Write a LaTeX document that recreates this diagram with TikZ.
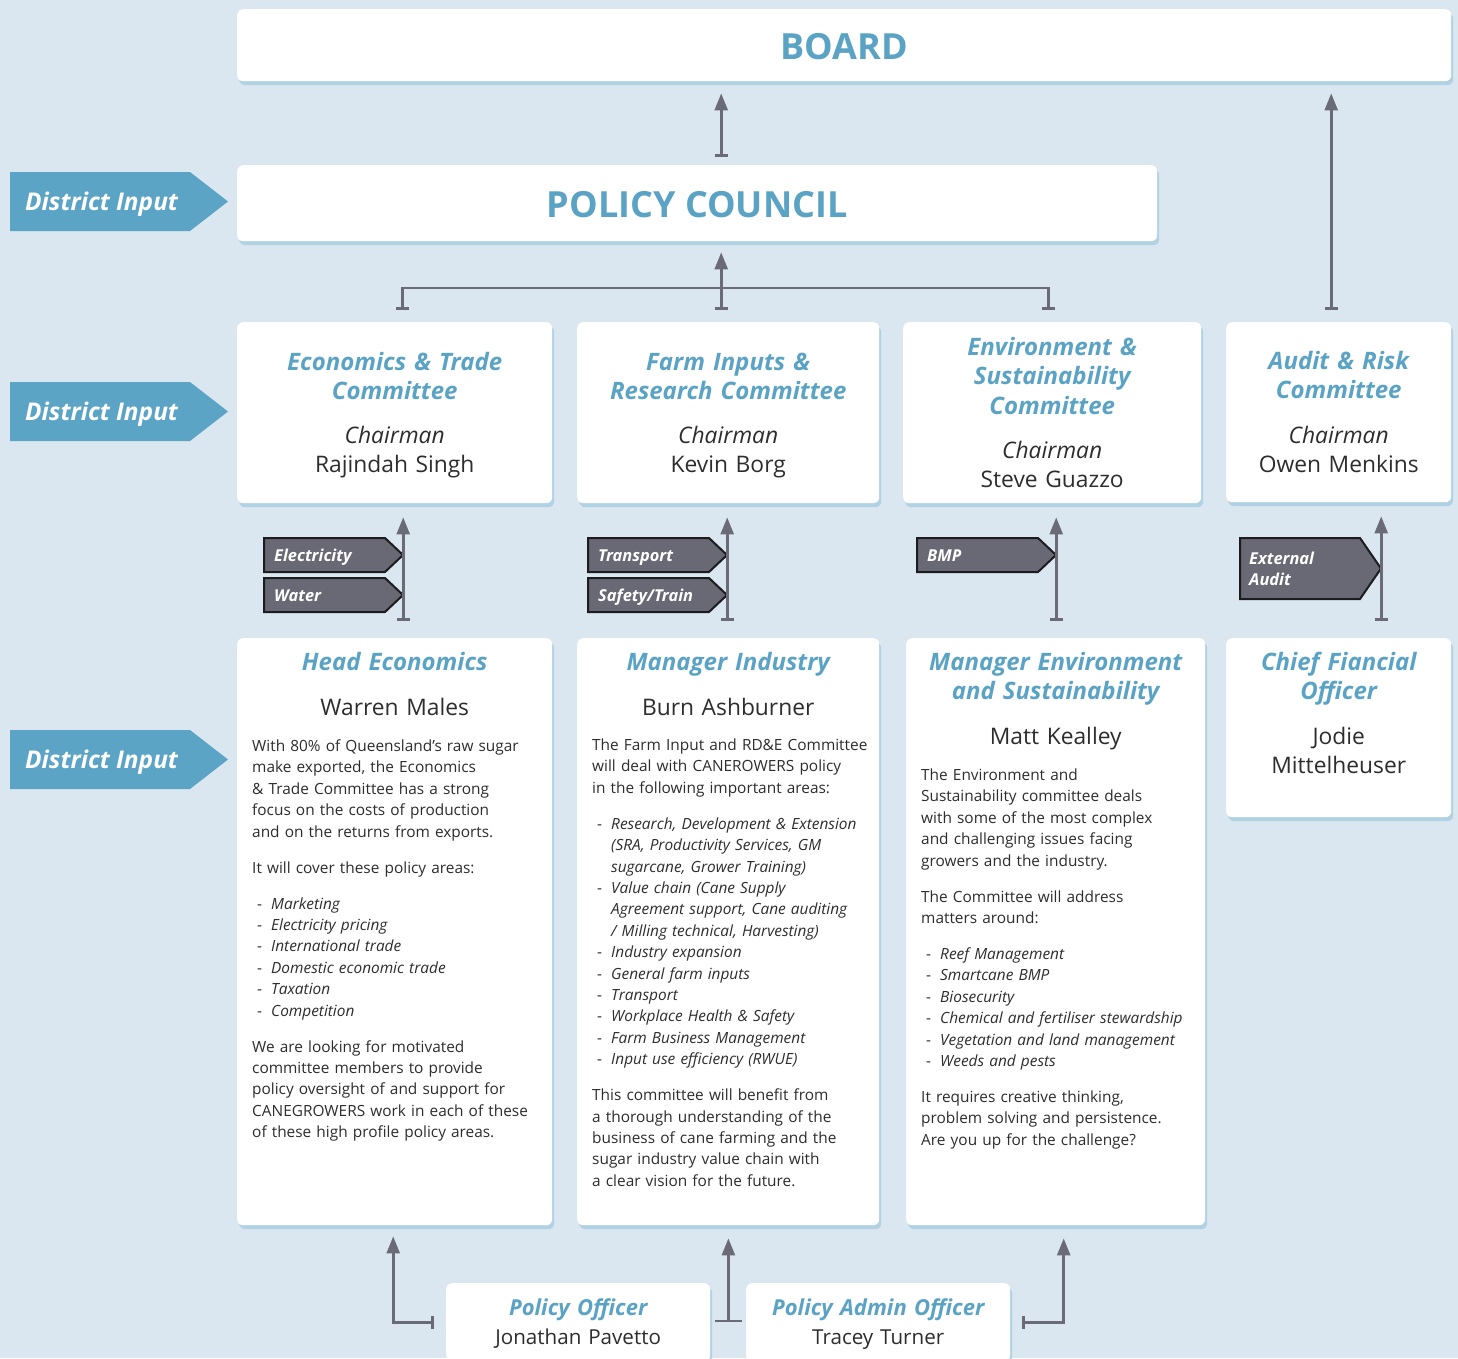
\documentclass[tikz,border=0pt]{standalone}
\usepackage{fontspec}
\setmainfont{Open Sans}
\usetikzlibrary{arrows.meta}
\usetikzlibrary{positioning}
\usetikzlibrary{shadows}

\definecolor{bgblue}{RGB}{218,231,240}
\definecolor{headblue}{RGB}{90,163,196}
\definecolor{arrowblue}{RGB}{91,164,197}
\definecolor{linkgray}{RGB}{107,107,120}
\definecolor{taggray}{RGB}{105,105,117}
\definecolor{tagedge}{RGB}{28,28,30}
\definecolor{bodygray}{RGB}{45,45,45}
\definecolor{glowblue}{RGB}{150,196,220}

\newcommand{\itm}{\makebox[19pt][l]{\hspace{5pt}-}}
\newcommand{\cnt}{\makebox[19pt]{}}

\tikzset{
  panel/.style={fill=white, rounded corners=6pt, inner sep=0pt, anchor=north west,
    drop shadow={shadow xshift=2pt, shadow yshift=-4pt, fill=glowblue, opacity=.6}},
  bigtitle/.style={text=headblue, font=\fontsize{36}{40}\selectfont\bfseries, inner sep=0pt, anchor=base},
  title/.style={text=headblue, font=\fontsize{24}{29.5}\selectfont\bfseries\itshape, align=center,
    text width=290pt, inner sep=0pt, anchor=base},
  chair/.style={text=bodygray, font=\fontsize{22.8}{29.5}\selectfont, align=center,
    text width=290pt, inner sep=0pt, anchor=base},
  body/.style={text=bodygray, font=\fontsize{15.4}{21.4}\selectfont, align=left,
    text width=320pt, inner sep=0pt, anchor=base west},
  dtext/.style={text=white, font=\fontsize{24.4}{26}\selectfont\bfseries\itshape, inner sep=0pt, anchor=base west},
  tagbox/.style={fill=taggray, draw=tagedge, line width=2pt, line join=miter},
  tagtext/.style={text=white, font=\fontsize{16.4}{21}\selectfont\bfseries\itshape, align=left,
    text width=110pt, inner sep=0pt, anchor=base west},
  link/.style={draw=linkgray, line width=2.6pt, line join=miter,
    {Bar[width=13pt]}-{Triangle[width=13pt,length=17pt]}},
}

\begin{document}
\begin{tikzpicture}[line cap=round,line join=round,x=1pt,y=-1pt]
\useasboundingbox (0,0) rectangle (1458,1358);
\clip(0,0) rectangle (1458,1358);
\fill[bgblue] (0,0) rectangle (1458,1358);

% district input arrows
\foreach \y [count=\i] in {172,382,730} {
  \fill[arrowblue] (10,\y) -- ++(180,0) -- ++(38,29.5) -- ++(-38,29.5) -- ++(-180,0) -- cycle;
  \node[dtext] (district\i) at (25,\y+38) {District Input};
}

% boxes
\node[panel, minimum width=1214pt, minimum height=72pt] (board) at (237,9) {};
\node[panel, minimum width=920pt, minimum height=76pt] (council) at (237,165) {};
\node[panel, minimum width=315pt, minimum height=181pt] (econ) at (237,322) {};
\node[panel, minimum width=302pt, minimum height=181pt] (farm) at (577,322) {};
\node[panel, minimum width=298pt, minimum height=181pt] (env) at (903,322) {};
\node[panel, minimum width=225pt, minimum height=180pt] (audit) at (1226,322) {};
\node[panel, minimum width=315pt, minimum height=587pt] (heco) at (237,638) {};
\node[panel, minimum width=302pt, minimum height=587pt] (mind) at (577,638) {};
\node[panel, minimum width=299pt, minimum height=587pt] (menv) at (906,638) {};
\node[panel, minimum width=225pt, minimum height=179pt] (cfo) at (1226,638) {};
\node[panel, minimum width=264pt, minimum height=78pt] (pofficer) at (446,1283) {};
\node[panel, minimum width=264pt, minimum height=78pt] (padmin) at (746,1283) {};

\node[bigtitle] (boardtitle) at ([yshift=-50pt]board.north) {BOARD};
\node[bigtitle] (counciltitle) at ([yshift=-52pt]council.north) {POLICY COUNCIL};

% committees
\node[title] (econtitle) at ([yshift=-48pt]econ.north) {Economics \& Trade\\Committee};
\node[chair] (econchair) at ([yshift=-121pt]econ.north) {\textit{Chairman}\\Rajindah Singh};
\node[title] (farmtitle) at ([yshift=-48pt]farm.north) {Farm Inputs \&\\Research Committee};
\node[chair] (farmchair) at ([yshift=-121pt]farm.north) {\textit{Chairman}\\Kevin Borg};
\node[title] (envtitle) at ([yshift=-33pt]env.north) {Environment \&\\Sustainability\\Committee};
\node[chair] (envchair) at ([yshift=-136pt]env.north) {\textit{Chairman}\\Steve Guazzo};
\node[title, text width=220pt] (audittitle) at ([yshift=-47pt]audit.north) {Audit \& Risk\\Committee};
\node[chair, text width=220pt] (auditchair) at ([yshift=-121pt]audit.north) {\textit{Chairman}\\Owen Menkins};

% tags
\foreach \x/\y/\t in {264/538/Electricity, 264/578/Water, 588/538/Transport, 588/578/{Safety/Train}, 917/538/BMP} {
  \draw[tagbox] (\x,\y) -- ++(121,0) -- ++(18,17) -- ++(-18,17) -- ++(-121,0) -- cycle;
  \node[tagtext] at (\x+10,\y+23) {\t};
}
\draw[tagbox] (1240,538) -- ++(120,0) -- ++(21,30.5) -- ++(-21,30.5) -- ++(-120,0) -- cycle;
\node[tagtext] (auditext) at (1249,564) {External\\Audit};

% managers
\node[title] (hecotitle) at ([yshift=-32pt]heco.north) {Head Economics};
\node[chair] (heconame) at ([yshift=-77pt]heco.north) {Warren Males};
\node[body] (hecobody) at ([xshift=15pt,yshift=-113.5pt]heco.north west) {%
With 80\% of Queensland’s raw sugar\\
make exported, the Economics\\
\& Trade Committee has a strong\\
focus on the costs of production\\
and on the returns from exports.\\[14.6pt]
It will cover these policy areas:\\[14.6pt]
\itm\textit{Marketing}\\
\itm\textit{Electricity pricing}\\
\itm\textit{International trade}\\
\itm\textit{Domestic economic trade}\\
\itm\textit{Taxation}\\
\itm\textit{Competition}\\[14.6pt]
We are looking for motivated\\
committee members to provide\\
policy oversight of and support for\\
CANEGROWERS work in each of these\\
of these high profile policy areas.};

\node[title] (mindtitle) at ([yshift=-32pt]mind.north) {Manager Industry};
\node[chair] (mindname) at ([yshift=-77pt]mind.north) {Burn Ashburner};
\node[body] (mindbody) at ([xshift=15pt,yshift=-112.5pt]mind.north west) {%
The Farm Input and RD\&E Committee\\
will deal with CANEROWERS policy\\
in the following important areas:\\[14.6pt]
\itm\textit{Research, Development \& Extension}\\
\cnt\textit{(SRA, Productivity Services, GM}\\
\cnt\textit{sugarcane, Grower Training)}\\
\itm\textit{Value chain (Cane Supply}\\
\cnt\textit{Agreement support, Cane auditing}\\
\cnt\textit{/ Milling technical, Harvesting)}\\
\itm\textit{Industry expansion}\\
\itm\textit{General farm inputs}\\
\itm\textit{Transport}\\
\itm\textit{Workplace Health \& Safety}\\
\itm\textit{Farm Business Management}\\
\itm\textit{Input use efficiency (RWUE)}\\[14.6pt]
This committee will benefit from\\
a thorough understanding of the\\
business of cane farming and the\\
sugar industry value chain with\\
a clear vision for the future.};

\node[title] (menvtitle) at ([yshift=-32pt]menv.north) {Manager Environment\\and Sustainability};
\node[chair] (menvname) at ([yshift=-106pt]menv.north) {Matt Kealley};
\node[body] (menvbody) at ([xshift=15pt,yshift=-142.5pt]menv.north west) {%
The Environment and\\
Sustainability committee deals\\
with some of the most complex\\
and challenging issues facing\\
growers and the industry.\\[14.6pt]
The Committee will address\\
matters around:\\[14.6pt]
\itm\textit{Reef Management}\\
\itm\textit{Smartcane BMP}\\
\itm\textit{Biosecurity}\\
\itm\textit{Chemical and fertiliser stewardship}\\
\itm\textit{Vegetation and land management}\\
\itm\textit{Weeds and pests}\\[14.6pt]
It requires creative thinking,\\
problem solving and persistence.\\
Are you up for the challenge?};

\node[title, text width=220pt] (cfotitle) at ([yshift=-32pt]cfo.north) {Chief Fiancial\\Officer};
\node[chair, text width=220pt] (cfoname) at ([yshift=-106pt]cfo.north) {Jodie\\Mittelheuser};

% officers
\node[title, text width=255pt, font=\fontsize{22}{28}\selectfont\bfseries\itshape] (potitle) at ([yshift=-32pt]pofficer.north) {Policy Officer};
\node[chair, text width=255pt, font=\fontsize{20.6}{28}\selectfont] (poname) at ([yshift=-61pt]pofficer.north) {Jonathan Pavetto};
\node[title, text width=255pt, font=\fontsize{22}{28}\selectfont\bfseries\itshape] (patitle) at ([yshift=-32pt]padmin.north) {Policy Admin Officer};
\node[chair, text width=255pt, font=\fontsize{20.6}{28}\selectfont] (paname) at ([yshift=-61pt]padmin.north) {Tracey Turner};

% connectors
\coordinate (councilfoot) at ([xshift=24pt,yshift=8pt]council.north);
\draw[link, shorten >=12pt] (councilfoot) -- (councilfoot |- board.south);
\coordinate (auditfoot) at ([xshift=-7.5pt,yshift=12pt]audit.north);
\draw[link, shorten >=12pt] (auditfoot) -- (auditfoot |- board.south);
\coordinate (econfoot) at ([xshift=7.5pt,yshift=12pt]econ.north);
\coordinate (envfoot) at ([xshift=-4pt,yshift=12pt]env.north);
\coordinate (farmfoot) at ([xshift=-7pt,yshift=12pt]farm.north);
\draw[link, {Bar[width=13pt]}-{Bar[width=13pt]}] (econfoot) -- ++(0,-22) -| (envfoot);
\draw[link, shorten >=11pt] (farmfoot) -- (farmfoot |- council.south);

\coordinate (hecofoot) at ([xshift=8.5pt,yshift=17pt]heco.north);
\coordinate (mindfoot) at ([xshift=-1pt,yshift=17pt]mind.north);
\coordinate (menvfoot) at ([xshift=0.5pt,yshift=17pt]menv.north);
\coordinate (cfofoot) at ([xshift=42.5pt,yshift=17pt]cfo.north);
\foreach \a/\b in {hecofoot/econ, mindfoot/farm, menvfoot/env, cfofoot/audit}
  \draw[link, shorten >=14pt] (\a) -- (\a |- \b.south);

\draw[link, shorten >=11pt] ([xshift=-12pt]pofficer.west) -| ([xshift=-1.5pt]heco.south);
\coordinate (stubfoot) at ([xshift=18pt]pofficer.east);
\draw[link, {Bar[width=27pt]}-{Triangle[width=13pt,length=17pt]}, shorten >=13pt] (stubfoot) -- (stubfoot |- mind.south);
\draw[link, shorten >=13pt] ([xshift=12pt]padmin.east) -| ([xshift=8pt]menv.south);
\end{tikzpicture}
\end{document}
